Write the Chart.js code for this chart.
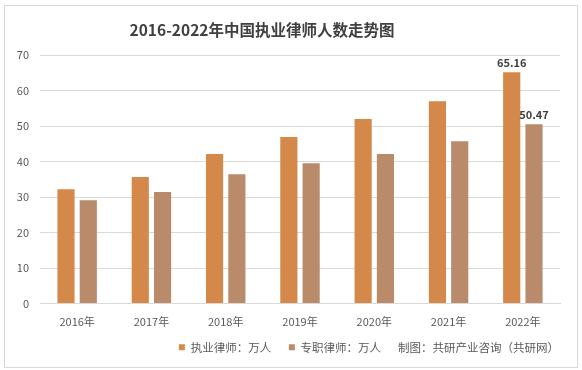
<!DOCTYPE html>
<html>
<head>
<meta charset="utf-8">
<script src="https://cdn.jsdelivr.net/npm/chart.js@4"></script>
<style>
  html, body { margin: 0; padding: 0; background: #fff; }
  #wrap { position: relative; width: 582px; height: 370px; }
  #frame { position: absolute; left: 4px; top: 5px; width: 572px; height: 361px; border: 1px solid #d9d9d9; pointer-events: none; }
</style>
</head>
<body>
<div id="wrap">
  <canvas id="line-chart" width="582" height="370"></canvas>
  <div id="frame"></div>
</div>
<script>
var years = ['2016年', '2017年', '2018年', '2019年', '2020年', '2021年', '2022年'];
var lawyers = [32.2, 35.6, 42.1, 46.9, 52.0, 57.0, 65.16];
var fullTime = [29.1, 31.4, 36.4, 39.5, 42.1, 45.7, 50.47];
var yTicks = [0, 10, 20, 30, 40, 50, 60, 70];
var titleText = '2016-2022年中国执业律师人数走势图';
var sourceText = '制图：共研产业咨询（共研网）';

var font = '"Microsoft YaHei", "Noto Sans CJK SC", sans-serif';

// draws the title, the source note and the two value labels on the last bars
var extras = {
  id: 'extras',
  afterDraw: function(chart) {
    var ctx = chart.ctx;
    ctx.save();
    ctx.fillStyle = '#404040';
    ctx.font = 'bold 15.5px ' + font;
    ctx.textAlign = 'center';
    ctx.textBaseline = 'middle';
    ctx.fillText(titleText, 262, 30);

    ctx.fillStyle = '#595959';
    ctx.font = '11.5px ' + font;
    ctx.textAlign = 'left';
    var leg = chart.legend;
    var ly = leg.legendHitBoxes.length ? leg.legendHitBoxes[0].top + leg.legendHitBoxes[0].height / 2 : 347;
    ctx.fillText(sourceText, 398, ly);

    ctx.fillStyle = '#404040';
    ctx.font = 'bold 11px ' + font;
    ctx.textAlign = 'center';
    ctx.textBaseline = 'bottom';
    [0, 1].forEach(function(di) {
      var meta = chart.getDatasetMeta(di);
      var last = meta.data.length - 1;
      var bar = meta.data[last];
      var v = chart.data.datasets[di].data[last];
      ctx.fillText(v.toFixed(2), bar.x, bar.y - 4);
    });
    ctx.restore();
  }
};

new Chart(document.getElementById('line-chart'), {
  type: 'bar',
  data: {
    labels: years,
    datasets: [{
      label: '执业律师：万人',
      data: lawyers,
      backgroundColor: '#D4894A',
      categoryPercentage: 0.6,
      barPercentage: 0.77
    }, {
      label: '专职律师：万人',
      data: fullTime,
      backgroundColor: '#B98B6B',
      categoryPercentage: 0.6,
      barPercentage: 0.77
    }]
  },
  plugins: [extras],
  options: {
    responsive: false,
    animation: false,
    layout: { padding: { left: 0, right: 22, top: 55, bottom: 7 } },
    plugins: {
      title: { display: false },
      tooltip: { enabled: false },
      legend: {
        position: 'bottom',
        labels: {
          boxWidth: 6,
          boxHeight: 6,
          padding: 10,
          color: '#595959',
          font: { size: 11.5, family: font },
          generateLabels: function(chart) {
            var items = Chart.defaults.plugins.legend.labels.generateLabels(chart);
            items[0].text = items[0].text + '   ';
            return items;
          }
        }
      }
    },
    scales: {
      x: {
        afterFit: function(scale) { scale.height = 28; },
        grid: { display: false, drawTicks: false },
        border: { color: '#d9d9d9' },
        ticks: { color: '#595959', padding: 12, font: { size: 11, family: font } }
      },
      y: {
        min: 0,
        max: 70,
        afterFit: function(scale) { scale.width = 40; },
        afterBuildTicks: function(scale) {
          scale.ticks = yTicks.map(function(v) { return { value: v }; });
        },
        grid: { color: '#d9d9d9', drawTicks: false },
        border: { display: false },
        ticks: { color: '#595959', padding: 11, font: { size: 11, family: font } }
      }
    }
  }
});
</script>
</body>
</html>
